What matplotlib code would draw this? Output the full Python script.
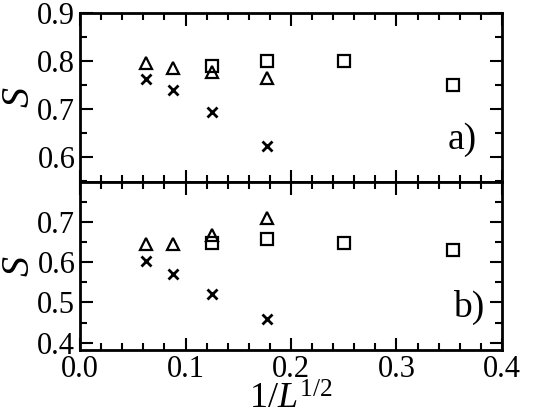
import matplotlib
matplotlib.use("Agg")
import matplotlib.pyplot as plt
from matplotlib.ticker import MultipleLocator

plt.rcParams['font.family'] = ['Liberation Serif', 'DejaVu Serif']
plt.rcParams['mathtext.fontset'] = 'custom'
plt.rcParams['mathtext.rm'] = 'Liberation Serif'
plt.rcParams['mathtext.it'] = 'Liberation Serif:italic'

# 1/L^(1/2) for L = 256, 128, 64, 32, 16, 8
x_tri = [0.0625, 0.0884, 0.125, 0.1768]
x_sq = [0.125, 0.1768, 0.25, 0.3536]
x_cr = [0.0625, 0.0884, 0.125, 0.1768]

a_tri = [0.796, 0.785, 0.776, 0.765]
a_sq = [0.790, 0.800, 0.799, 0.749]
a_cr = [0.763, 0.739, 0.694, 0.623]

b_tri = [0.646, 0.646, 0.668, 0.711]
b_sq = [0.647, 0.657, 0.647, 0.630]
b_cr = [0.603, 0.570, 0.521, 0.459]

fig = plt.figure(figsize=(5.45, 4.16), dpi=100)
ax1 = fig.add_axes([0.147, 0.5625, 0.774, 0.4065])
ax2 = fig.add_axes([0.147, 0.159, 0.774, 0.4035])


def style(ax):
    ax.set_xlim(0, 0.4)
    ax.xaxis.set_major_locator(MultipleLocator(0.1))
    ax.xaxis.set_minor_locator(MultipleLocator(0.02))
    ax.yaxis.set_major_locator(MultipleLocator(0.1))
    ax.yaxis.set_minor_locator(MultipleLocator(0.05))
    ax.tick_params(which='both', direction='in', top=True, right=True,
                   width=1.5, labelsize=22)
    ax.tick_params(which='major', length=9)
    ax.tick_params(which='minor', length=5)
    for s in ax.spines.values():
        s.set_linewidth(2)
    ax.set_ylabel(r'$S$', fontsize=29)
    ax.yaxis.set_label_coords(-0.1, 0.5)


def draw(ax, tri, sq, cr):
    ax.plot(x_tri, tri, ls='none', marker='^', ms=9, mfc='none', mec='k', mew=1.6)
    ax.plot(x_sq, sq, ls='none', marker='s', ms=9, mfc='none', mec='k', mew=1.6)
    ax.plot(x_cr, cr, ls='none', marker='x', ms=7, mec='k', mew=2)


draw(ax1, a_tri, a_sq, a_cr)
draw(ax2, b_tri, b_sq, b_cr)
style(ax1)
style(ax2)

ax1.set_ylim(0.548, 0.9)
ax1.tick_params(labelbottom=False)
ax2.set_ylim(0.382, 0.8)
ax2.set_yticks([0.4, 0.5, 0.6, 0.7])
ax2.set_xticks([0.0, 0.1, 0.2, 0.3, 0.4])
ax2.set_xticklabels(['0.0', '0.1', '0.2', '0.3', '0.4'])
ax2.set_xlabel(r'$1/L^{1/2}$', fontsize=26, labelpad=0)

ax1.text(0.905, 0.25, 'a)', transform=ax1.transAxes, fontsize=27, ha='center', va='center')
ax2.text(0.92, 0.25, 'b)', transform=ax2.transAxes, fontsize=27, ha='center', va='center')

fig.savefig('out.png', dpi=100)
